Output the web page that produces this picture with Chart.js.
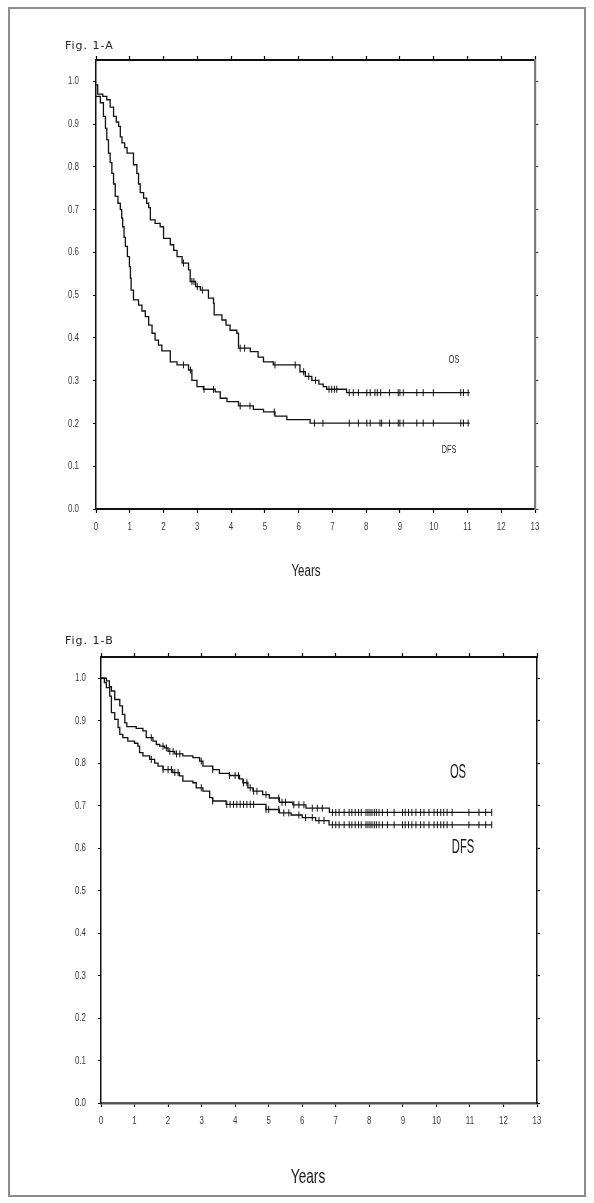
<!DOCTYPE html>
<html>
<head>
<meta charset="utf-8">
<script src="https://cdn.jsdelivr.net/npm/chart.js@4.4.1/dist/chart.umd.min.js"></script>
<style>
html,body{margin:0;padding:0;background:#fff;}
#wrap{position:relative;width:594px;height:1203px;overflow:hidden;background:#fff;}
#frame{position:absolute;left:8px;top:7px;width:578px;height:1190px;border:2px solid #8c8c8c;box-sizing:border-box;}
canvas{position:absolute;left:0;}
.t{position:absolute;white-space:nowrap;line-height:1;color:#222;}
.fig{font-family:"DejaVu Sans",sans-serif;font-size:11px;letter-spacing:1px;color:#222;}
.nar{font-family:"Liberation Sans",Arial,sans-serif;text-align:center;transform-origin:50% 50%;color:#1a1a1a;}
</style>
</head>
<body>
<div id="wrap">
  <div id="frame"></div>
  <canvas id="cA" width="594" height="600" style="top:0px"></canvas>
  <canvas id="cB" width="594" height="603" style="top:600px"></canvas>
  <div class="t fig" style="left:65px;top:40px;">Fig. 1-A</div>
  <div class="t fig" style="left:65px;top:635px;">Fig. 1-B</div>
  <div class="t nar" style="left:256px;top:563px;width:100px;font-size:16px;transform:scaleX(0.72);">Years</div>
  <div class="t nar" style="left:258px;top:1165px;width:100px;font-size:21px;transform:scaleX(0.65);">Years</div>
  <div class="t nar" style="left:434px;top:354px;width:40px;font-size:11px;transform:scaleX(0.65);">OS</div>
  <div class="t nar" style="left:429px;top:444px;width:40px;font-size:11px;transform:scaleX(0.65);">DFS</div>
  <div class="t nar" style="left:438px;top:761px;width:40px;font-size:20px;transform:scaleX(0.56);">OS</div>
  <div class="t nar" style="left:443px;top:836px;width:40px;font-size:20px;transform:scaleX(0.56);">DFS</div>
</div>
<script>
// ---------- tick labels ----------
const xTickValues = [0,1,2,3,4,5,6,7,8,9,10,11,12,13];
const xTickLabels = ['0','1','2','3','4','5','6','7','8','9','10','11','12','13'];
const yTickValues = [0,0.1,0.2,0.3,0.4,0.5,0.6,0.7,0.8,0.9,1.0];
const yTickLabels = ['0.0','0.1','0.2','0.3','0.4','0.5','0.6','0.7','0.8','0.9','1.0'];

// ---------- Fig. 1-A : overall survival (OS) ----------
const aOsTimes = [0,0.05,0.2,0.32,0.42,0.52,0.6,0.67,0.72,0.77,0.85,0.92,1.11,1.21,1.26,1.31,1.41,1.5,1.56,1.61,1.75,1.9,2.0,2.2,2.3,2.4,2.55,2.74,2.79,2.95,3.09,3.33,3.48,3.5,3.73,3.85,3.97,4.17,4.22,4.57,4.8,4.96,5.25,6.04,6.2,6.39,6.6,6.73,6.83,7.42,11.07];
const aOsSurv  = [0.992,0.97,0.965,0.957,0.94,0.918,0.905,0.895,0.87,0.856,0.845,0.832,0.805,0.785,0.76,0.74,0.727,0.715,0.705,0.676,0.668,0.66,0.633,0.618,0.605,0.59,0.575,0.559,0.532,0.52,0.512,0.493,0.481,0.454,0.442,0.43,0.418,0.411,0.376,0.368,0.355,0.344,0.337,0.321,0.31,0.301,0.292,0.286,0.28,0.272,0.272];
const aOsCensored = [2.59,2.84,2.9,3.0,3.15,4.27,4.4,5.3,5.9,6.15,6.3,6.5,6.9,6.98,7.06,7.13,7.5,7.62,7.77,8.02,8.12,8.26,8.33,8.43,8.69,8.95,9.0,9.1,9.5,9.69,9.99,10.8,10.88,11.02];

// ---------- Fig. 1-A : disease-free survival (DFS) ----------
const aDfsTimes = [0,0.13,0.22,0.28,0.32,0.37,0.42,0.47,0.52,0.57,0.65,0.72,0.76,0.79,0.83,0.87,0.93,0.99,1.02,1.04,1.11,1.26,1.36,1.46,1.56,1.66,1.75,1.85,1.95,2.2,2.4,2.74,2.84,2.99,3.18,3.53,3.68,3.88,4.22,4.66,4.96,5.3,5.65,6.34,11.07];
const aDfsSurv  = [0.965,0.95,0.918,0.89,0.863,0.832,0.81,0.785,0.76,0.731,0.715,0.7,0.68,0.66,0.635,0.614,0.59,0.567,0.54,0.512,0.489,0.477,0.463,0.45,0.43,0.411,0.395,0.383,0.37,0.344,0.337,0.325,0.301,0.286,0.28,0.274,0.259,0.251,0.241,0.233,0.227,0.217,0.209,0.201,0.201];
const aDfsCensored = [2.59,2.8,3.2,3.48,4.27,4.56,5.28,6.47,6.72,7.5,7.77,8.02,8.12,8.41,8.46,8.69,8.95,9.0,9.1,9.5,9.69,9.99,10.8,10.88,11.02];

// ---------- Fig. 1-B : OS ----------
const bOsTimes = [0,0.16,0.25,0.31,0.41,0.56,0.64,0.71,0.77,1.05,1.25,1.35,1.55,1.65,1.75,1.9,2.0,2.2,2.44,2.74,2.94,3.04,3.33,3.53,3.83,4.13,4.23,4.38,4.53,4.82,5.02,5.32,5.72,6.11,6.81,11.65];
const bOsSurv  = [1.0,0.994,0.98,0.97,0.95,0.935,0.915,0.895,0.886,0.882,0.876,0.86,0.852,0.844,0.84,0.836,0.828,0.822,0.817,0.813,0.805,0.793,0.785,0.776,0.771,0.763,0.754,0.742,0.734,0.726,0.718,0.708,0.702,0.694,0.684,0.684];
const bOsCensored = [1.5,1.85,1.95,2.05,2.15,2.25,2.35,2.99,3.33,3.83,4.0,4.1,4.25,4.35,4.45,4.55,4.65,4.92,5.3,5.4,5.5,5.75,5.9,6.05,6.3,6.45,6.6,6.9,7.0,7.1,7.25,7.4,7.48,7.58,7.68,7.76,7.9,7.96,8.02,8.08,8.15,8.21,8.29,8.39,8.54,8.74,8.99,9.07,9.17,9.27,9.39,9.53,9.63,9.78,9.93,10.03,10.13,10.22,10.32,10.47,10.97,11.27,11.47,11.65];

// ---------- Fig. 1-B : DFS ----------
const bDfsTimes = [0,0.1,0.16,0.26,0.31,0.41,0.51,0.56,0.65,0.8,1.0,1.1,1.15,1.25,1.45,1.6,1.7,1.85,2.14,2.34,2.44,2.74,2.84,3.04,3.24,3.33,3.73,4.92,5.32,5.67,6.0,6.4,6.8,11.65];
const bDfsSurv  = [1.0,0.99,0.978,0.958,0.919,0.903,0.884,0.868,0.86,0.852,0.847,0.84,0.825,0.817,0.809,0.8,0.793,0.785,0.778,0.77,0.758,0.754,0.742,0.734,0.719,0.711,0.703,0.691,0.683,0.678,0.672,0.665,0.655,0.655];
const bDfsCensored = [1.5,1.85,2.0,2.1,2.2,2.3,2.99,3.33,3.75,3.85,3.95,4.05,4.15,4.25,4.35,4.45,4.55,4.92,5.0,5.3,5.45,5.6,5.9,6.1,6.3,6.5,6.65,6.9,7.0,7.1,7.25,7.4,7.48,7.58,7.68,7.76,7.9,7.96,8.02,8.08,8.15,8.21,8.29,8.39,8.54,8.74,8.99,9.07,9.17,9.27,9.39,9.53,9.63,9.78,9.93,10.03,10.13,10.22,10.32,10.47,10.97,11.27,11.47,11.65];

// ---------- helpers ----------
function stepPts(times, surv){ return times.map((t,i)=>({x:t,y:surv[i]})); }
function survAt(times, surv, t){ let v = surv[0]; for (let i=0;i<times.length;i++){ if (times[i] <= t) v = surv[i]; } return v; }
function censorPts(times, surv, cens){ return cens.map(t=>({x:t,y:survAt(times,surv,t)})); }

// Condensed text (the original uses a very narrow face): squeeze every label horizontally around its anchor.
function condense(canvas, k){
  const ctx = canvas.getContext('2d');
  const orig = ctx.fillText;
  ctx.fillText = function(text, x, y){
    this.save(); this.translate(x, y); this.scale(k, 1);
    orig.call(this, text, 0, 0);
    this.restore();
  };
}

const TICK_FONT = '"Liberation Sans",Arial,sans-serif';

function axis(pos, opts){
  const isX = (pos==='top' || pos==='bottom');
  const vals = isX ? xTickValues : yTickValues;
  const labs = isX ? xTickLabels : yTickLabels;
  return {
    type:'linear', position:pos,
    min:0, max: isX ? 13 : 1.05,
    afterBuildTicks: s => { s.ticks = vals.map(v=>({value:v})); },
    afterFit: s => { if (isX) s.height = opts.size; else s.width = opts.size; },
    ticks:{
      display: !!opts.labels,
      callback:(v,i)=>labs[i],
      font:{family:TICK_FONT,size:11},
      color:'#3a3a3a',
      padding: opts.pad || 0,
      autoSkip:false, maxRotation:0, minRotation:0
    },
    grid:{display:true, drawOnChartArea:false, drawTicks:true, tickLength:opts.tick, tickColor:opts.tickColor||'#000', tickWidth:1.2},
    border:{display:true, color:opts.color, width:opts.width}
  };
}

function makeChart(id, series, g){
  const canvas = document.getElementById(id);
  condense(canvas, 0.72);
  const datasets = [];
  series.forEach(s=>{
    datasets.push({data:stepPts(s.times,s.surv), showLine:true, stepped:true, borderColor:'#111', borderWidth:1.3, pointRadius:0, fill:false, order:2});
    datasets.push({data:censorPts(s.times,s.surv,s.cens), showLine:false, pointStyle:'line', pointRotation:90, pointRadius:3.5, pointBorderWidth:1, pointBorderColor:'#111', borderColor:'#111', order:1});
  });
  return new Chart(canvas, {
    type:'scatter',
    data:{datasets},
    options:{
      responsive:false, animation:false, events:[],
      layout:{padding:0},
      plugins:{legend:{display:false}, tooltip:{enabled:false}, title:{display:false}},
      scales:{
        x: axis('bottom', g.bottom),
        xTop: axis('top', g.top),
        y: axis('left', g.left),
        yRight: axis('right', g.right)
      }
    }
  });
}

makeChart('cA', [
  {times:aOsTimes, surv:aOsSurv, cens:aOsCensored},
  {times:aDfsTimes, surv:aDfsSurv, cens:aDfsCensored}
], {
  bottom:{size:91, labels:true, pad:7, tick:4, color:'#111', width:2},
  top:{size:60, tick:4, color:'#111', width:2},
  left:{size:96, labels:true, pad:14, tick:3, color:'#111', width:1.5},
  right:{size:59, tick:3, color:'#7a7a7a', width:2.2}
});

makeChart('cB', [
  {times:bOsTimes, surv:bOsSurv, cens:bOsCensored},
  {times:bDfsTimes, surv:bDfsSurv, cens:bDfsCensored}
], {
  bottom:{size:100, labels:true, pad:7, tick:4, color:'#555', width:2.5},
  top:{size:57, tick:4, color:'#111', width:2},
  left:{size:101, labels:true, pad:12, tick:3, color:'#111', width:1.5},
  right:{size:57, tick:3, color:'#111', width:1.5}
});
</script>
</body>
</html>
